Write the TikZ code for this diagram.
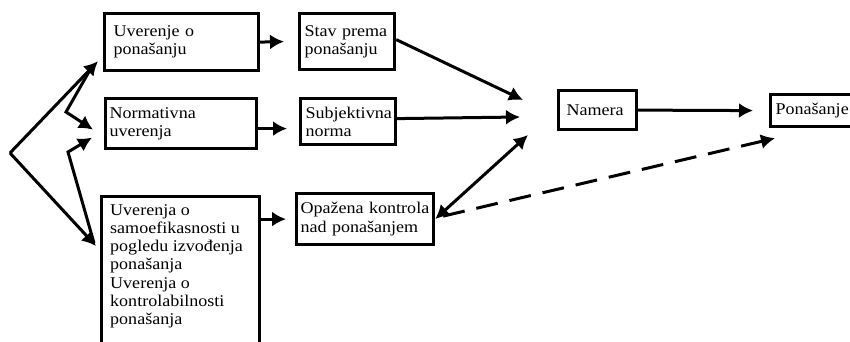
\documentclass[tikz,border=0pt]{standalone}
\usepackage{fontspec}
\setmainfont{Liberation Serif}[FakeStretch=1.1]
\usetikzlibrary{arrows.meta,calc}
\tikzset{
  box/.style={draw, line width=3.2pt, align=left, inner ysep=0pt, anchor=north west,
    font=\fontsize{16.4}{18.3}\selectfont},
  txt/.style={align=left, inner sep=0pt, anchor=north west,
    font=\fontsize{16.4}{18.3}\selectfont},
  arr/.style={line width=3pt, -{Latex[length=14pt,width=15pt]}},
  darr/.style={line width=3pt, {Latex[length=14pt,width=15pt]}-{Latex[length=14pt,width=15pt]}},
  dasharr/.style={arr, dash pattern=on 22pt off 12pt},
}
\begin{document}
\begin{tikzpicture}[x=1pt,y=-1pt]
\useasboundingbox (0,0) rectangle (850,342);
\clip (0,0) rectangle (850,342);
% boxes
\node[box, text width=136pt, inner xsep=9pt, minimum height=57pt] (b1) at (103,12) {Uverenje o\\ponašanju};
\node[box, text width=143pt, inner xsep=4pt, minimum height=50pt] (b2) at (104,97) {Normativna\\uverenja};
\node[box, minimum width=158pt, minimum height=170pt, inner sep=0pt] (b3) at (100,195) {};
\node[txt] (b3t) at (110,204) {Uverenja o\\samoefikasnosti u\\pogledu izvođenja\\ponašanja\\Uverenja o\\kontrolabilnosti\\ponašanja};
\node[box, text width=85pt, inner xsep=5pt, minimum height=56pt] (s1) at (298,12) {Stav prema\\ponašanju};
\node[box, text width=85pt, inner xsep=5pt, minimum height=46pt] (s2) at (299,97) {Subjektivna\\norma};
\node[box, text width=129pt, inner xsep=4pt, minimum height=51pt] (s3) at (295,192) {\mbox{Opažena kontrola}\\nad ponašanjem};
\node[box, text width=62pt, inner xsep=8pt, minimum height=39pt] (n) at (557,89) {Namera};
\node[box, text width=75pt, inner xsep=5pt, minimum height=32pt] (p) at (769,93) {Ponašanje};
% coordinates
\coordinate (apex) at (10,153);
\coordinate (z1) at (66,112);
\coordinate (z2) at (68,152);
\coordinate (c1) at (523,100);
\coordinate (c2) at (520,117);
\coordinate (c3) at (528,135);
% left arrows
\draw[arr] (apex) -- ($(b1.south west)+(-5,-11)$);
\draw[arr] (apex) -- ($(b3.north west)+(-4,51)$);
\draw[arr] ($(b1.south west)+(-12,-4)$) -- (z1) -- ($(b2.west)+(-11,6)$);
\draw[arr] ($(b3.north west)+(-6,48)$) -- (z2) -- ($(b2.west)+(-12,14)$);
% middle arrows
\draw[arr] (b1.east) -- ($(s1.west)+(-14,0)$);
\draw[arr] ($(b2.east)+(0,5)$) -- ($(s2.west |- b2.east)+(-12,5)$);
\draw[arr] (b3.east |- s3.west) -- ($(s3.west)+(-9,0)$);
% right arrows
\draw[arr] ($(s1.east)+(0,-2)$) -- (c1);
\draw[arr] ($(s2.east)+(0,-3)$) -- (c2);
\draw[darr] (s3.east) -- (c3);
\draw[arr] (n.east) -- ($(p.west)+(-16,0)$);
\draw[dasharr] ($(s3.east)+(8,-3)$) -- ($(p.south west)+(6,10)$);
\end{tikzpicture}
\end{document}
